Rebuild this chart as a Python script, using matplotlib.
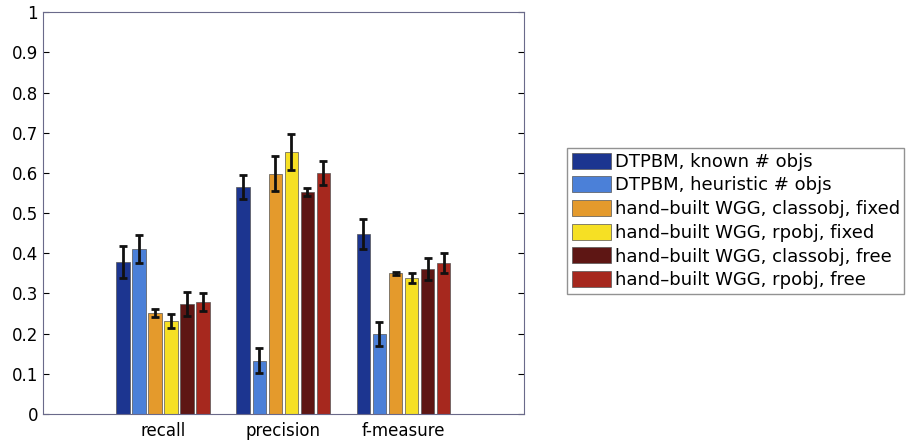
import numpy as np
import matplotlib.pyplot as plt

categorias = ['recall', 'precision', 'f-measure']
series = ['DTPBM, known # objs', 'DTPBM, heuristic # objs',
          'hand\u2013built WGG, classobj, fixed', 'hand\u2013built WGG, rpobj, fixed',
          'hand\u2013built WGG, classobj, free', 'hand\u2013built WGG, rpobj, free']
colores = ['#1c3590', '#4b80d8', '#e49a2c', '#f6e024', '#5e1614', '#a6281e']

# valores por serie (recall, precision, f-measure)
valores = [
    [0.378, 0.565, 0.448],
    [0.411, 0.133, 0.198],
    [0.251, 0.598, 0.350],
    [0.232, 0.652, 0.338],
    [0.274, 0.553, 0.361],
    [0.278, 0.600, 0.375],
]
errores = [
    [0.040, 0.030, 0.038],
    [0.035, 0.030, 0.030],
    [0.010, 0.043, 0.003],
    [0.018, 0.045, 0.013],
    [0.030, 0.010, 0.028],
    [0.022, 0.030, 0.025],
]

fig = plt.figure(figsize=(9.07, 4.44), dpi=100)
ax = fig.add_axes([0.0474, 0.0676, 0.530, 0.905])

x = np.arange(1, len(categorias) + 1)
paso = 0.8 / len(series)
for i, (nombre, col) in enumerate(zip(series, colores)):
    pos = x - 0.4 + paso * (i + 0.5)
    ax.bar(pos, valores[i], width=paso * 0.85, color=col, edgecolor='#555555',
           linewidth=0.5, label=nombre)
    ax.errorbar(pos, valores[i], yerr=errores[i], fmt='none', ecolor='#111111',
                elinewidth=2, capsize=3, capthick=2)

ax.set_xlim(0, 4)
ax.set_ylim(0, 1)
ax.set_xticks(x)
ax.set_xticklabels(categorias, fontsize=12)
ax.set_yticks(np.arange(0, 1.01, 0.1))
ax.set_yticklabels(['0'] + ['%.1f' % v for v in np.arange(0.1, 0.95, 0.1)] + ['1'], fontsize=12)
ax.tick_params(axis='y', direction='in', right=True, length=4)
ax.tick_params(axis='x', length=0, pad=6)
for s in ax.spines.values():
    s.set_color('#6a6a8a')
    s.set_linewidth(0.8)

fig.legend(loc='upper left', bbox_to_anchor=(567 / 907, 1 - 148 / 444), fontsize=13,
           frameon=True, fancybox=False, edgecolor='#777777', borderpad=0.25,
           labelspacing=0.3, handlelength=2.2, handleheight=1.0, handletextpad=0.2,
           borderaxespad=0)

plt.savefig('out.png', dpi=100)
